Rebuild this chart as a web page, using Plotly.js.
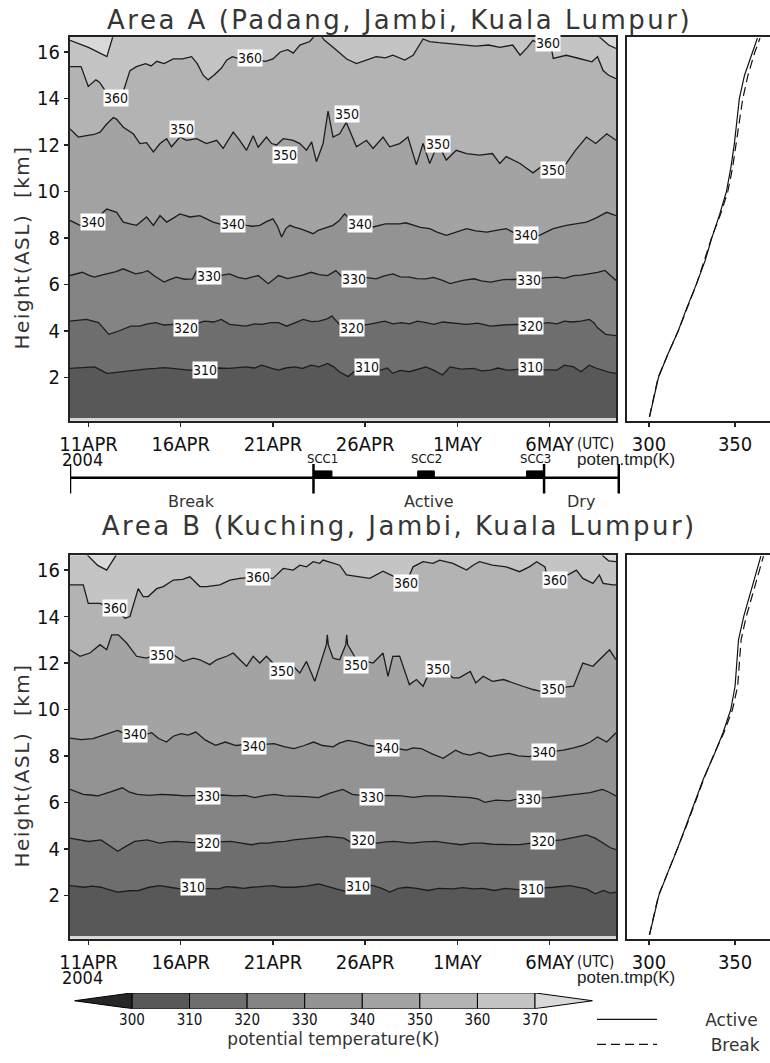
<!DOCTYPE html>
<html><head><meta charset="utf-8">
<script src="https://cdn.plot.ly/plotly-3.0.1.min.js"></script>
<style>
html,body{margin:0;padding:0;background:#fff}#chart{width:770px;height:1063px}
.xtick text,.ytick text,.x2tick text,.y2tick text,.x3tick text,.y3tick text,.x4tick text,.x6tick text{font-stretch:condensed}
g.annotation[data-index="0"] text,g.annotation[data-index="1"] text{letter-spacing:2.5px}
g.annotation[data-index="2"] text,g.annotation[data-index="3"] text{letter-spacing:1.5px}
</style>
</head><body><div id="chart"></div>
<script>
// ===================== DATA =====================
// time axis: days since 2004-04-10 00UTC
const tickDays = [1, 6, 11, 16, 21, 26];
const tickText = ['11APR', '16APR', '21APR', '26APR', '1MAY', '6MAY'];
const heightTicks = [2, 4, 6, 8, 10, 12, 14, 16];
const thetaTicks = [300, 350];
const levels = [300, 310, 320, 330, 340, 350, 360, 370];

// ---- Area A isentrope heights (km) ----
const tA310 = [0,0.6,1.33,1.7,2.0,2.4,2.88,3.3,3.77,4.2,4.66,5.1,5.54,6.0,6.43,7.3,8.0,8.65,9.1,9.53,10.0,10.4,10.9,11.3,11.7,12.2,12.6,13.08,13.5,13.97,14.3,14.6,15.07,15.5,16.1,16.5,16.85,17.2,17.5,17.9,18.4,18.9,19.3,19.7,20.2,20.6,21.2,21.9,22.3,22.8,23.2,23.7,24.3,25.0,25.7,26.4,26.8,27.3,27.7,28.15,28.5,28.8,29.2,29.6];
const hA310 = [2.38,2.42,2.45,2.3,2.17,2.2,2.24,2.3,2.31,2.36,2.38,2.42,2.38,2.35,2.31,2.33,2.4,2.38,2.42,2.45,2.4,2.52,2.4,2.31,2.4,2.45,2.38,2.52,2.45,2.6,2.45,2.24,2.03,2.31,2.4,2.38,2.31,2.4,2.17,2.3,2.24,2.35,2.45,2.31,2.1,2.45,2.35,2.38,2.28,2.31,2.4,2.31,2.33,2.38,2.33,2.31,2.52,2.45,2.24,2.52,2.4,2.31,2.22,2.17];
const tA320 = [0,0.89,1.55,1.8,2.1,2.5,2.88,3.3,3.77,4.2,4.66,5.1,5.54,6.3,6.8,7.3,7.8,8.2,8.65,9.1,9.53,10.0,10.4,10.9,11.3,11.75,12.2,12.64,13.1,13.5,13.9,14.2,14.6,15.3,16.2,16.6,17.07,17.5,17.96,18.4,18.84,19.3,19.73,20.2,20.6,21.0,21.5,22.1,22.8,23.5,24.2,25.0,25.9,26.4,26.8,27.2,27.7,28.15,28.4,28.6,29.04,29.6];
const hA320 = [4.42,4.49,4.35,4.1,3.85,3.95,4.06,4.2,4.2,4.3,4.35,4.25,4.28,4.2,4.3,4.42,4.38,4.49,4.28,4.25,4.2,4.3,4.28,4.35,4.35,4.2,4.35,4.49,4.4,4.42,4.5,4.63,4.28,4.2,4.28,4.35,4.42,4.3,4.35,4.3,4.42,4.35,4.28,4.38,4.35,4.3,4.28,4.33,4.2,4.25,4.28,4.22,4.35,4.3,4.42,4.38,4.42,4.49,4.35,4.13,3.85,3.79];
const tA330 = [0,0.67,1.0,1.33,1.7,2.0,2.5,2.88,3.2,3.55,3.9,4.21,4.6,5.1,5.4,5.76,6.2,6.65,6.87,7.5,8.1,8.65,9.1,9.53,9.9,10.2,10.75,11.3,11.8,12.2,12.6,13.08,13.5,13.97,14.41,14.85,15.4,16.0,16.6,17.0,17.5,17.9,18.4,18.8,19.3,19.7,20.2,20.6,21.3,21.9,22.3,22.8,23.5,24.2,25.05,25.7,26.4,26.8,27.3,27.7,28.15,28.6,29.0,29.3,29.6];
const hA330 = [6.38,6.52,6.4,6.31,6.4,6.45,6.55,6.67,6.55,6.45,6.5,6.59,6.35,6.1,6.2,6.31,6.22,6.24,6.59,6.35,6.38,6.45,6.3,6.24,6.32,6.38,6.03,6.38,6.25,6.31,6.4,6.52,6.42,6.38,6.59,6.24,6.25,6.3,6.24,6.35,6.45,6.32,6.31,6.25,6.24,6.3,6.17,6.03,6.17,6.24,6.15,6.1,6.2,6.22,6.2,6.28,6.31,6.26,6.38,6.4,6.45,6.52,6.6,6.4,6.17];
const tA340 = [0,0.54,0.9,1.26,1.6,1.99,2.53,2.89,3.25,3.61,4.15,4.52,4.88,5.24,5.6,5.96,6.5,7.04,7.4,7.76,8.1,8.49,9.03,9.57,9.9,10.29,10.65,11.0,11.25,11.47,11.7,11.92,12.2,12.46,12.8,13.18,13.45,13.72,14.26,14.6,14.89,15.3,15.7,16.1,16.43,17.1,17.87,18.2,18.6,19.0,19.5,19.9,20.4,20.9,21.5,22.0,22.6,23.1,23.65,24.0,24.4,24.9,25.45,25.8,26.2,26.9,27.5,28.0,28.5,29.1,29.6];
const hA340 = [8.75,8.54,8.62,8.68,8.95,9.24,9.1,8.68,8.6,8.54,8.9,8.54,8.96,8.68,8.85,9.03,8.9,8.96,8.82,8.68,8.6,8.54,8.68,8.54,8.5,8.54,8.7,8.82,8.5,8.04,8.4,8.54,8.45,8.4,8.3,8.18,8.32,8.4,8.54,8.75,9.03,8.72,8.54,8.5,8.47,8.6,8.6,8.65,8.54,8.45,8.4,8.25,8.11,8.25,8.4,8.3,8.25,8.32,8.4,8.25,8.11,8.15,8.11,8.25,8.4,8.54,8.6,8.68,8.85,9.1,8.96];
const tA350 = [0,0.45,0.9,1.3,1.63,1.99,2.35,2.53,2.89,3.43,3.79,4.15,4.52,4.88,5.24,5.5,5.96,6.32,6.86,7.4,7.95,8.3,8.85,9.2,9.57,9.93,10.2,10.65,10.93,11.2,11.56,12.1,12.46,12.82,13.1,13.36,13.72,13.99,14.26,14.62,14.98,15.53,16.07,16.43,16.97,17.33,17.87,18.32,18.78,19.14,19.5,19.95,20.4,20.94,21.5,22.2,22.9,23.3,23.65,24.0,24.4,24.75,25.1,25.6,26.0,26.5,26.9,27.4,28.0,28.5,29.1,29.6];
const hA350 = [12.69,12.34,12.4,12.45,12.55,12.9,13.18,13.1,12.76,12.48,12.06,12.1,11.7,12.06,12.27,11.92,12.34,12.2,12.27,12.06,12.2,11.85,12.55,12.2,11.77,12.4,11.9,12.34,12.06,12.0,12.27,12.2,12.06,11.77,12.13,11.28,12.06,13.46,12.34,12.48,12.97,11.92,12.2,11.85,12.34,11.92,12.06,12.34,11.14,12.06,11.2,12.06,11.35,11.77,11.63,11.56,11.63,11.2,11.5,11.35,11.2,11.0,10.8,11.1,11.07,11.05,11.2,11.77,12.34,12.06,12.48,12.2];
const tA360 = [0,0.6,0.99,1.4,1.6,1.99,2.5,2.89,3.25,3.6,4.1,4.4,4.7,5.1,5.6,6.1,6.59,6.9,7.22,7.49,7.8,8.2,8.49,8.8,9.2,9.9,10.6,11.0,11.4,11.8,12.1,12.46,13.0,13.27,13.6,13.8,14.26,15.0,15.53,16.1,16.6,17.1,17.5,18.15,18.6,19.14,19.5,20.0,20.7,21.4,22.0,22.7,23.3,24.0,24.4,24.8,25.1,25.6,26.1,26.2,26.9,27.6,28.3,28.6,28.9,29.2,29.6];
const hA360 = [15.37,15.37,14.52,14.8,14.7,14.24,14.2,14.3,15.2,15.37,15.5,15.4,15.6,15.5,15.7,15.7,15.8,15.5,15.0,14.8,15.0,15.3,15.65,15.8,15.7,15.7,15.6,15.7,16.0,16.1,15.95,16.3,16.45,16.7,16.7,16.5,16.2,15.7,15.5,15.65,15.8,15.75,15.86,15.65,15.86,16.56,16.45,16.4,16.35,16.3,16.25,16.3,16.2,16.3,15.86,16.2,16.5,16.3,16.14,15.72,15.86,15.72,15.58,15.8,15.2,15.0,14.85];
const tA370 = [0,1.0,2.0,2.3,2.6,28.3,28.7,29.2,29.6];
const hA370 = [16.5,16.2,15.8,16.6,17.4,17.4,16.65,16.3,16.15];

// ---- Area B isentrope heights (km) ----
const tB310 = [0,0.77,1.2,1.68,2.1,2.59,3.2,3.72,4.3,4.86,5.4,5.99,6.67,7.3,8.04,8.5,8.94,9.4,9.85,10.4,10.99,11.5,12.12,12.8,13.48,13.9,14.39,15.07,15.64,16.0,16.43,16.9,17.34,17.8,18.25,18.8,19.39,20.0,20.75,21.3,21.88,22.4,23.0,23.6,24.3,25.06,25.6,26.2,27.1,27.5,28.0,28.47,28.92,29.3,29.6];
const hB310 = [2.42,2.35,2.4,2.35,2.25,2.14,2.2,2.21,2.35,2.42,2.35,2.28,2.35,2.3,2.28,2.38,2.35,2.3,2.35,2.38,2.42,2.35,2.35,2.4,2.49,2.4,2.28,2.14,2.35,2.45,2.42,2.3,2.14,2.3,2.35,2.3,2.21,2.3,2.28,2.33,2.28,2.3,2.21,2.3,2.25,2.28,2.3,2.35,2.42,2.35,2.28,2.07,2.21,2.1,2.14];
const tB320 = [0,0.5,1.0,1.68,2.1,2.59,3.0,3.5,4.18,4.86,5.3,5.77,6.5,7.47,8.1,8.72,9.3,9.85,10.3,10.76,11.2,11.67,12.12,12.6,13.03,13.5,13.94,14.4,14.85,15.2,15.87,16.66,17.1,17.57,18.0,18.48,19.2,19.84,20.5,21.2,21.8,22.34,22.9,23.47,24.38,25.0,25.63,26.1,26.65,27.1,27.56,28.0,28.5,28.92,29.3,29.6];
const hB320 = [4.46,4.38,4.32,4.39,4.15,3.9,4.1,4.32,4.39,4.25,4.3,4.32,4.28,4.25,4.3,4.32,4.25,4.18,4.25,4.25,4.3,4.32,4.39,4.42,4.46,4.5,4.54,4.5,4.46,4.3,4.35,4.25,4.3,4.32,4.28,4.25,4.3,4.32,4.25,4.18,4.25,4.25,4.2,4.18,4.18,4.25,4.32,4.35,4.39,4.45,4.54,4.6,4.45,4.25,4.05,3.97];
const tB330 = [0,0.72,1.1,1.51,2.2,2.84,3.2,3.64,4.3,4.96,5.6,6.29,6.9,7.49,8.2,8.95,9.5,10.0,10.6,11.1,11.6,12.13,12.8,13.46,14.1,14.79,15.3,15.8,16.38,17.2,17.97,18.6,19.3,20.1,20.9,21.7,22.1,22.5,23.1,23.8,24.3,24.9,25.4,25.94,26.7,27.5,28.2,28.86,29.2,29.6];
const hB330 = [6.56,6.35,6.32,6.28,6.45,6.63,6.45,6.35,6.3,6.35,6.32,6.28,6.3,6.28,6.32,6.28,6.3,6.21,6.3,6.35,6.28,6.28,6.25,6.21,6.4,6.56,6.35,6.3,6.25,6.3,6.28,6.22,6.28,6.28,6.25,6.21,6.15,6.0,6.1,6.07,6.15,6.14,6.2,6.21,6.28,6.35,6.42,6.56,6.45,6.28];
const tB340 = [0,0.6,1.25,1.78,2.58,3.0,3.5,4.0,4.43,4.8,5.23,5.6,6.03,6.4,6.82,7.35,7.89,8.42,9.0,9.5,10.0,10.5,11.07,11.6,12.13,12.7,13.2,13.7,14.26,14.6,15.05,15.59,16.2,16.7,17.18,17.7,18.24,18.6,19.04,19.6,20.23,20.9,21.3,21.7,22.2,22.75,23.3,23.8,24.3,24.9,25.3,25.67,26.2,26.74,27.3,27.8,28.2,28.6,29.1,29.6];
const hB340 = [8.77,8.7,8.75,8.89,9.1,8.95,9.0,8.9,9.0,8.75,8.6,8.85,8.96,8.9,9.03,8.68,8.46,8.6,8.45,8.5,8.43,8.5,8.53,8.4,8.32,8.45,8.6,8.45,8.39,8.55,8.67,8.6,8.45,8.4,8.3,8.32,8.25,8.35,8.32,8.1,7.9,8.25,8.1,8.04,8.15,7.97,8.05,8.11,8.0,7.97,8.05,8.18,8.2,8.25,8.35,8.46,8.6,8.82,8.6,9.0];
const tB350 = [0,0.54,1.08,1.63,1.99,2.26,2.62,3.07,3.61,4.15,4.6,4.96,5.6,6.14,6.68,7.04,7.58,7.95,8.49,8.85,9.21,9.57,9.93,10.29,10.65,11.0,11.47,12.1,12.46,12.82,13.27,13.54,13.9,13.95,14.0,14.26,14.62,14.95,15.0,15.05,15.53,16.07,16.43,16.97,17.24,17.5,17.87,18.4,18.78,19.14,19.5,19.95,20.4,20.76,21.1,21.7,22.0,22.4,22.9,23.5,24.0,24.55,25.1,25.45,26.2,26.8,27.3,27.8,28.35,28.7,29.25,29.6];
const hB350 = [12.57,12.29,12.43,12.79,12.57,13.21,13.21,12.86,12.29,12.21,12.35,12.3,12.36,12.07,12.21,12.14,11.93,12.14,12.29,12.43,12.14,11.86,12.29,12.0,12.29,12.0,11.71,11.86,11.57,12.07,11.21,11.86,12.79,13.21,12.79,12.21,12.14,12.79,13.21,12.79,12.14,12.07,12.0,12.43,11.43,12.29,12.3,11.07,11.29,11.0,11.64,11.7,11.64,11.36,11.36,11.64,11.14,11.43,11.21,11.29,11.14,11.0,10.86,10.79,10.9,10.95,11.0,12.0,11.86,12.14,12.57,12.14];
const tB360 = [0,0.72,0.99,1.63,1.99,2.44,2.98,3.25,3.7,3.97,4.24,4.7,5.06,5.6,6.1,6.5,6.68,7.04,7.4,8.12,8.67,9.21,10.2,11.0,11.56,12.1,12.46,12.82,13.18,13.54,13.72,14.26,14.62,14.99,15.7,16.25,16.97,17.5,17.9,18.24,18.6,19.14,19.68,20.04,20.76,21.5,21.85,22.2,22.9,23.65,24.37,24.9,25.3,25.75,25.9,26.3,26.8,27.45,27.8,28.35,28.7,28.9,29.43,29.6];
const hB360 = [15.36,15.36,14.57,14.57,14.43,14.36,13.93,14.0,15.2,14.86,14.86,15.2,15.29,15.57,15.6,15.71,15.57,15.29,15.29,15.36,15.57,15.64,15.7,15.64,16.07,16.0,16.21,16.14,16.36,16.29,16.43,16.29,16.21,15.79,15.71,15.64,15.95,15.75,15.57,15.46,16.14,16.36,16.29,16.43,16.29,16.0,16.21,16.36,16.21,16.14,15.93,16.14,16.36,16.14,15.57,15.57,15.71,16.0,15.64,15.43,15.79,15.43,15.36,15.36];
const tB370 = [0,0.95,1.5,1.99,2.5,2.7,28.6,28.85,29.2,29.6];
const hB370 = [17.4,16.64,16.2,16.0,16.64,17.4,17.4,16.64,16.4,16.36];

// ---- contour labels (day, km, value) ----
const labA_t = [2.49, 9.75, 25.9, 6.05, 11.65, 14.99, 19.95, 26.2, 1.26, 8.85, 15.7, 24.7, 7.54, 15.4, 24.9, 6.3, 15.3, 25.0, 7.3, 16.1, 25.0];
const labA_h = [14.03, 15.72, 16.4, 12.69, 11.56, 13.32, 12.06, 10.93, 8.68, 8.6, 8.6, 8.11, 6.38, 6.24, 6.17, 4.14, 4.14, 4.2, 2.3, 2.45, 2.45];
const labA_v = [360, 360, 360, 350, 350, 350, 350, 350, 340, 340, 340, 340, 330, 330, 330, 320, 320, 320, 310, 310, 310];
const labB_t = [2.44, 10.2, 18.24, 26.27, 4.97, 11.47, 15.49, 19.95, 26.18, 3.5, 10.0, 17.18, 25.67, 7.49, 16.38, 24.9, 7.47, 15.87, 25.63, 6.67, 15.64, 25.06];
const labB_h = [14.36, 15.71, 15.46, 15.57, 12.33, 11.64, 11.93, 11.74, 10.89, 8.96, 8.44, 8.35, 8.18, 6.28, 6.24, 6.14, 4.25, 4.39, 4.32, 2.35, 2.42, 2.28];
const labB_v = [360, 360, 360, 360, 350, 350, 350, 350, 350, 340, 340, 340, 340, 330, 330, 330, 320, 320, 320, 310, 310, 310];

// ---- mean profiles (potential temperature K vs height km) ----
const profH = [0.3, 1, 2, 3, 4, 5, 6, 7, 8, 9, 10, 11, 12, 13, 14, 15, 16, 16.6];
const thA_active = [300.3, 302.5, 305.5, 311, 317, 322, 327.5, 332.5, 336.5, 341, 345, 347.5, 349.5, 351, 352.5, 355.5, 360, 363];
const thA_break  = [300.2, 302.3, 305.3, 311, 317, 322.3, 327.5, 332, 336.3, 341.5, 345.8, 348.5, 350.5, 352.5, 354.5, 357.5, 361.5, 364.5];
const thB_active = [300.3, 302.5, 305.7, 311, 316.5, 321.5, 326.5, 331.5, 337.5, 343, 347.5, 350, 351, 352, 355, 359, 363, 365];
const thB_break  = [300.2, 302.3, 305.5, 311, 316.5, 321.8, 326.8, 331.8, 337.3, 343.5, 348.5, 351.5, 352.5, 353.5, 356.5, 360.5, 364.5, 366.5];

// ---- periods / SCC events (days since Apr 10) ----
const periodName = ['Break', 'Active', 'Dry'];
const periodStart = [0, 13.2, 25.7];
const periodEnd = [13.2, 25.7, 29.75];
const sccName = ['SCC1', 'SCC2', 'SCC3'];
const sccStart = [13.2, 18.85, 24.75];
const sccEnd = [14.2, 19.75, 25.7];

// ===================== STYLE =====================
const W = 770, H = 1063;
const px = v => v / W;
const py = v => 1 - v / H;
const NARROW = "Liberation Sans Narrow, DejaVu Sans Condensed, Arial Narrow, sans-serif";
const HERSHEY = "DejaVu Sans, sans-serif";
const bandColors = ['#262626', '#585858', '#6e6e6e', '#848484', '#939393', '#a3a3a3', '#b3b3b3', '#c4c4c4', '#d9d9d9'];
const LINE = '#1c1c1c';
const dataBottom = 0.25, dataTop = 17.6, tEnd = 29.6;

const traces = [];
function contourPanel(xa, ya, iso) {
  traces.push({x: [0, tEnd], y: [dataBottom, dataBottom], xaxis: xa, yaxis: ya, mode: 'lines',
    line: {width: 0}, showlegend: false, hoverinfo: 'skip'});
  iso.forEach((pair, i) => {
    traces.push({x: pair[0], y: pair[1], xaxis: xa, yaxis: ya, mode: 'lines',
      line: {color: LINE, width: 1.3}, fill: 'tonexty', fillcolor: bandColors[i + 1],
      showlegend: false, hoverinfo: 'skip'});
  });
  traces.push({x: [0, tEnd], y: [dataTop, dataTop], xaxis: xa, yaxis: ya, mode: 'lines',
    line: {width: 0}, fill: 'tonexty', fillcolor: bandColors[8], showlegend: false, hoverinfo: 'skip'});
}
contourPanel('x', 'y', [[tA310, hA310], [tA320, hA320], [tA330, hA330], [tA340, hA340], [tA350, hA350], [tA360, hA360], [tA370, hA370]]);
contourPanel('x3', 'y3', [[tB310, hB310], [tB320, hB320], [tB330, hB330], [tB340, hB340], [tB350, hB350], [tB360, hB360], [tB370, hB370]]);

function profile(xa, ya, th, name, dash, legend) {
  traces.push({x: th, y: profH, xaxis: xa, yaxis: ya, mode: 'lines', name: name,
    line: {color: '#111', width: 1.2, dash: dash}, showlegend: legend, hoverinfo: 'skip'});
}
const PAD = '\u00a0\u00a0\u00a0\u00a0\u00a0\u00a0\u00a0\u00a0';
profile('x2', 'y2', thA_active, PAD + 'Active', 'solid', true);
profile('x2', 'y2', thA_break, PAD + '\u00a0Break', '9px,5px', true);
profile('x4', 'y4', thB_active, 'Active', 'solid', false);
profile('x4', 'y4', thB_break, 'Break', '9px,5px', false);

// timeline (x5/y5; y units = pixels above the 520 px line)
const tl = {line: 34, tickLo: 18, tickHi: 48, boxTop: 41, sccLab: 54, perLab: 10};
traces.push({x: [periodStart[0], periodEnd[periodEnd.length - 1]], y: [tl.line, tl.line], xaxis: 'x5', yaxis: 'y5',
  mode: 'lines', line: {color: '#000', width: 2.5}, showlegend: false, hoverinfo: 'skip'});
const bx = [], by = [];
periodStart.concat([periodEnd[periodEnd.length - 1]]).forEach(t => { bx.push(t, t, null); by.push(tl.tickLo, tl.tickHi, null); });
traces.push({x: bx, y: by, xaxis: 'x5', yaxis: 'y5', mode: 'lines', line: {color: '#000', width: 2.5},
  showlegend: false, hoverinfo: 'skip'});
const sx = [], sy = [];
sccStart.forEach((s, i) => { sx.push(s, sccEnd[i], sccEnd[i], s, s, null); sy.push(tl.line, tl.line, tl.boxTop, tl.boxTop, tl.line, null); });
traces.push({x: sx, y: sy, xaxis: 'x5', yaxis: 'y5', mode: 'lines', fill: 'toself', fillcolor: '#000',
  line: {color: '#000', width: 1}, showlegend: false, hoverinfo: 'skip'});

// colour bar (x6/y6)
traces.push({type: 'bar', orientation: 'h', xaxis: 'x6', yaxis: 'y6',
  y: levels.slice(0, -1).map(() => 0.5), base: levels.slice(0, -1),
  x: levels.slice(1).map((v, i) => v - levels[i]), width: 1,
  marker: {color: bandColors.slice(1, 8), line: {color: '#000', width: 1}},
  showlegend: false, hoverinfo: 'skip'});
const lo = levels[0], hi = levels[levels.length - 1], step = levels[1] - levels[0];
traces.push({x: [lo, lo - step, lo, lo], y: [0, 0.5, 1, 0], xaxis: 'x6', yaxis: 'y6', mode: 'lines', fill: 'toself',
  fillcolor: bandColors[0], line: {color: '#000', width: 1}, showlegend: false, hoverinfo: 'skip'});
traces.push({x: [hi, hi + step, hi, hi], y: [0, 0.5, 1, 0], xaxis: 'x6', yaxis: 'y6', mode: 'lines', fill: 'toself',
  fillcolor: bandColors[8], line: {color: '#000', width: 1}, showlegend: false, hoverinfo: 'skip'});

// ===================== LAYOUT =====================
const frame = {showline: true, linewidth: 2, linecolor: '#222', mirror: true, showgrid: false, zeroline: false, fixedrange: true};
const tickStyle = {ticks: 'outside', ticklen: 4, tickwidth: 1.5, tickcolor: '#222', tickfont: {family: NARROW, size: 20, color: '#111'}};
const mainX = [px(70), px(616)];
const sideX = [px(627), 1];
const yA = [py(428), py(38)], yB = [py(955), py(565)];
const hRange = [0.13, 16.63];

function timeAxis(anchor) {
  return Object.assign({domain: mainX, range: [0, tEnd], anchor: anchor, tickmode: 'array', tickvals: tickDays, ticktext: tickText}, frame, tickStyle);
}
function heightAxis(dom, anchor) {
  return Object.assign({domain: dom, range: hRange, anchor: anchor, tickmode: 'array', tickvals: heightTicks}, frame, tickStyle);
}
function thetaAxis(anchor) {
  return Object.assign({domain: sideX, range: [287.2, 370.3], anchor: anchor, tickmode: 'array', tickvals: thetaTicks}, frame, tickStyle);
}
function sideY(dom, anchor) {
  return Object.assign({domain: dom, range: hRange, anchor: anchor, showticklabels: false, ticks: ''}, frame);
}
const pxPerDay = (616 - 70) / tEnd;

const annotations = [];
function title(text, y) {
  annotations.push({text: text, xref: 'paper', yref: 'paper', x: px(400), y: py(y), showarrow: false,
    xanchor: 'center', yanchor: 'middle', font: {family: HERSHEY, size: 26, color: '#363636'}});
}
title('Area A (Padang, Jambi, Kuala Lumpur)', 20);
title('Area B (Kuching, Jambi, Kuala Lumpur)', 535);

function ytitle(y) {
  annotations.push({text: 'Height(ASL)  [km]', xref: 'paper', yref: 'paper', x: px(22), y: py(y), textangle: -90,
    showarrow: false, xanchor: 'center', yanchor: 'middle', font: {family: HERSHEY, size: 20, color: '#333'}});
}
ytitle(252); ytitle(779);

function axisExtras(xa, yLab) {
  annotations.push({text: '2004', xref: xa, yref: 'paper', x: tickDays[0], xshift: -6, y: py(yLab + 24), yanchor: 'middle',
    showarrow: false, font: {family: NARROW, size: 18, color: '#111'}});
  annotations.push({text: '(UTC)', xref: xa, yref: 'paper', x: tickDays[tickDays.length - 1], xshift: 25, xanchor: 'left',
    y: py(yLab + 9), yanchor: 'middle', showarrow: false, font: {family: NARROW, size: 15, color: '#111'}});
  annotations.push({text: 'poten.tmp(K)', xref: 'paper', yref: 'paper', x: px(677), y: py(yLab + 24), yanchor: 'middle',
    showarrow: false, font: {family: 'Liberation Sans, sans-serif', size: 17, color: '#222'}});
}
axisExtras('x', 443);
axisExtras('x3', 970);

function contourLabels(xa, ya, ts, hs, vs) {
  ts.forEach((t, i) => annotations.push({text: String(vs[i]), xref: xa, yref: ya, x: t, y: hs[i], showarrow: false,
    bgcolor: '#ffffff', borderpad: 0, font: {family: NARROW, size: 14, color: '#111'}}));
}
contourLabels('x', 'y', labA_t, labA_h, labA_v);
contourLabels('x3', 'y3', labB_t, labB_h, labB_v);

sccName.forEach((n, i) => annotations.push({text: n, xref: 'x5', yref: 'y5', x: (sccStart[i] + sccEnd[i]) / 2, y: tl.sccLab,
  showarrow: false, font: {family: NARROW, size: 13, color: '#111'}}));
periodName.forEach((n, i) => annotations.push({text: n, xref: 'x5', yref: 'y5', x: (periodStart[i] + periodEnd[i]) / 2, y: tl.perLab,
  showarrow: false, font: {family: HERSHEY, size: 16, color: '#333'}}));

const shapes = [
  {type: 'rect', xref: 'x domain', yref: 'y domain', x0: 0, x1: 1, y0: 0, y1: 1, fillcolor: '#d6d6d6', line: {width: 0}, layer: 'below'},
  {type: 'rect', xref: 'x3 domain', yref: 'y3 domain', x0: 0, x1: 1, y0: 0, y1: 1, fillcolor: '#d6d6d6', line: {width: 0}, layer: 'below'}
];

const layout = {
  width: W, height: H, margin: {l: 0, r: 0, t: 0, b: 0},
  paper_bgcolor: '#ffffff', plot_bgcolor: 'rgba(0,0,0,0)',
  showlegend: true, barmode: 'overlay',
  legend: {x: px(592), y: py(1019), xanchor: 'left', yanchor: 'top', bgcolor: 'rgba(0,0,0,0)', traceorder: 'normal',
    itemwidth: 60, font: {family: HERSHEY, size: 17, color: '#333'}, tracegroupgap: 0},
  xaxis: timeAxis('y'), yaxis: heightAxis(yA, 'x'),
  xaxis2: thetaAxis('y2'), yaxis2: sideY(yA, 'x2'),
  xaxis3: timeAxis('y3'), yaxis3: heightAxis(yB, 'x3'),
  xaxis4: thetaAxis('y4'), yaxis4: sideY(yB, 'x4'),
  xaxis5: {domain: [px(70), px(70 + 30 * pxPerDay)], range: [0, 30], anchor: 'y5', visible: false, fixedrange: true},
  yaxis5: {domain: [py(520), py(460)], range: [0, 60], anchor: 'x5', visible: false, fixedrange: true},
  xaxis6: {domain: [px(74.4), px(592.6)], range: [290, 380], anchor: 'y6', tickmode: 'array', tickvals: levels,
    ticks: '', showline: false, showgrid: false, zeroline: false, fixedrange: true,
    tickfont: {family: NARROW, size: 15, color: '#111'},
    title: {text: 'potential temperature(K)', standoff: 2, font: {family: HERSHEY, size: 17, color: '#333'}}},
  yaxis6: {domain: [py(1026), py(1010)], range: [0, 1], anchor: 'x6', visible: false, fixedrange: true},
  annotations: annotations, shapes: shapes
};

Plotly.newPlot('chart', traces, layout, {staticPlot: true, displayModeBar: false});
</script>
</body></html>
